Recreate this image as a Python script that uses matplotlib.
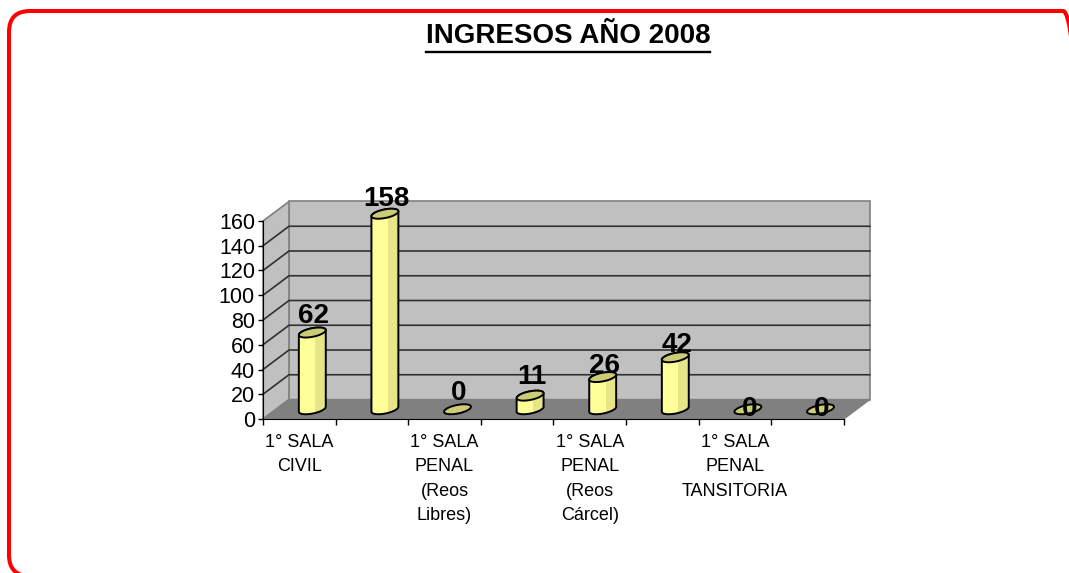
import numpy as np
import matplotlib
matplotlib.use("Agg")
import matplotlib.pyplot as plt
from matplotlib.patches import Polygon, Rectangle, FancyBboxPatch
from matplotlib.lines import Line2D
from matplotlib.transforms import IdentityTransform

# Data
values = [62, 158, 0, 11, 26, 42, 0, 0]
tick_labels = ["1° SALA\nCIVIL",
               "1° SALA\nPENAL\n(Reos\nLibres)",
               "1° SALA\nPENAL\n(Reos\nCárcel)",
               "1° SALA\nPENAL\nTANSITORIA"]
y_ticks = [0, 20, 40, 60, 80, 100, 120, 140, 160]
title = "INGRESOS AÑO 2008"

# how far each value label sits above its bar top (Excel put them a bit unevenly)
label_lift = [8, 6, 7.5, 9, 3.5, 4, -5.5, -5.5]

W, H = 1069, 573
fig = plt.figure(figsize=(W / 100, H / 100), dpi=100)

# pixel layout of the front plane
L, R, T, B = 200, 900, 190, 440
x0px, xs = 263, 72.6
y0px, ys = 419, 1.2375
ax = fig.add_axes([L / W, (H - B) / H, (R - L) / W, (B - T) / H])
ax.set_xlim((L - x0px) / xs, (R - x0px) / xs)
ax.set_ylim((y0px - B) / ys, (y0px - T) / ys)

n = len(values)
ymax = y_ticks[-1]
DX, DY = 26 / xs, 19.5 / ys   # depth offset in data units

# walls and floor
ax.add_patch(Polygon([(DX, DY), (n + DX, DY), (n + DX, ymax + DY), (DX, ymax + DY)],
                     fc="#c0c0c0", ec="#808080", lw=1.2, zorder=0))
ax.add_patch(Polygon([(0, 0), (DX, DY), (DX, ymax + DY), (0, ymax)],
                     fc="#c0c0c0", ec="#808080", lw=1.2, zorder=0))
for v in y_ticks[1:-1]:
    ax.plot([0, DX, n + DX], [v, v + DY, v + DY], color="#303030", lw=1.2, zorder=0.3)
ax.add_patch(Polygon([(0, 0), (n, 0), (n + DX, DY), (DX, DY)],
                     fc="#808080", ec="#808080", lw=1, zorder=0.5))

# cylinders
a, b = 11.7 / xs, 0.256
t0 = np.arctan2(b * DX, a)


def ring(cx, cy, t):
    return cx + a * np.cos(t) + b * DX * np.sin(t), cy + b * DY * np.sin(t)


for i, v in enumerate(values):
    cx = i + 0.5 + DX / 2
    cy0 = DY / 2
    cy1 = DY / 2 + v
    if v > 0:
        tb = np.linspace(t0 + np.pi, t0 + 2 * np.pi, 60)
        tt = np.linspace(t0, t0 + np.pi, 60)
        xb, yb = ring(cx, cy0, tb)
        xt, yt = ring(cx, cy1, tt)
        pts = np.column_stack([np.r_[xb, xt], np.r_[yb, yt]])
        body = Polygon(pts, fc="#ffff99", ec="none", zorder=3)
        ax.add_patch(body)
        shade = Rectangle((cx + 0.25 * a, cy0 - 20), 2 * a, v + 40,
                          fc="#e6e688", ec="none", zorder=3.1)
        shade.set_clip_path(body)
        ax.add_patch(shade)
        ax.add_patch(Polygon(pts, fill=False, ec="black", lw=1.4, zorder=3.2))
    ta = np.linspace(0, 2 * np.pi, 120)
    xe, ye = ring(cx, cy1, ta)
    ax.add_patch(Polygon(np.column_stack([xe, ye]), fc="#cccc77", ec="black",
                         lw=1.4, zorder=3.3))
    ax.text(cx + 0.02, cy1 + label_lift[i], str(v), ha="center", va="baseline",
            fontsize=20, fontweight="bold", family="Liberation Sans", zorder=5)

# axes lines and ticks
for s in ["top", "right"]:
    ax.spines[s].set_visible(False)
ax.spines["left"].set_position(("data", 0))
ax.spines["left"].set_bounds(0, ymax)
ax.spines["bottom"].set_position(("data", 0))
ax.spines["bottom"].set_bounds(0, n)
ax.set_facecolor("none")

ax.set_yticks(y_ticks)
ax.set_yticklabels([str(t) for t in y_ticks], fontsize=15.5, family="Liberation Sans")
ax.tick_params(axis="y", length=3.6, width=1, pad=2.2)

ax.set_xticks(np.arange(n + 1))
ax.set_xticklabels([])
ax.tick_params(axis="x", which="major", length=4.3, width=1)
ax.set_xticks(np.arange(0, n, 2) + 0.5, minor=True)
ax.set_xticklabels(tick_labels, minor=True)
ax.tick_params(axis="x", which="minor", length=0, pad=11)
for lbl in ax.get_xticklabels(minor=True):
    lbl.set_fontfamily("Liberation Sans")
    lbl.set_fontsize(13)
    lbl.set_linespacing(1.55)

# title with underline
t = fig.text(568 / W, 1 - 43 / H, title, ha="center", va="baseline",
             fontsize=20, fontweight="bold", family="Liberation Sans")
fig.canvas.draw()
bb = t.get_window_extent()
fig.add_artist(Line2D([bb.x0, bb.x1], [H - 52, H - 52], color="black", lw=1.7,
                      transform=IdentityTransform()))

# red rounded frame
frame = FancyBboxPatch((9, H - 576), 1084 - 9, 576 - 11,
                       boxstyle="round,pad=0,rounding_size=21",
                       fc="none", ec="red", lw=2.9, transform=IdentityTransform())
fig.add_artist(frame)

fig.savefig("out.png", dpi=100, facecolor="white")
